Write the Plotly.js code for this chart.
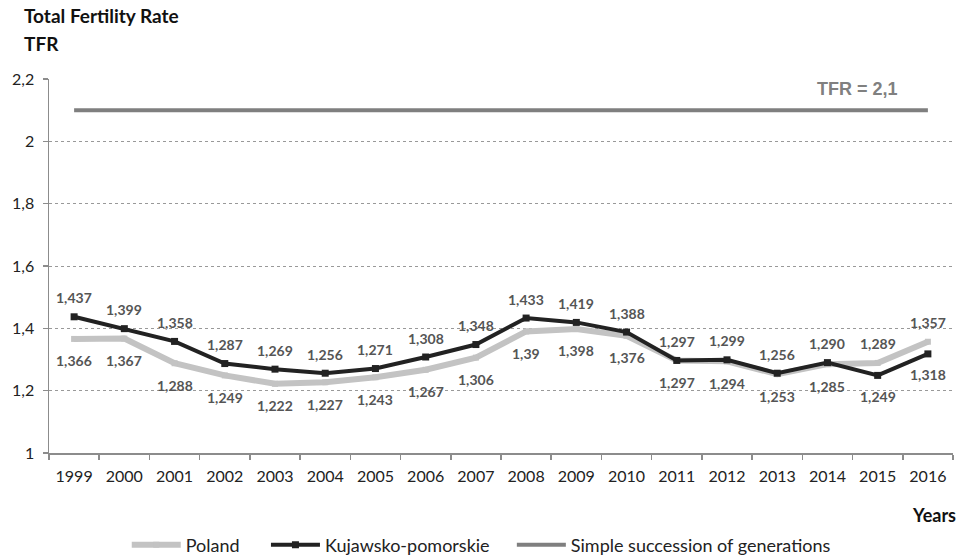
<!DOCTYPE html>
<html><head><meta charset="utf-8">
<script src="https://cdn.plot.ly/plotly-3.0.1.min.js"></script>
<style>html,body{margin:0;padding:0;background:#fff}#chart{width:965px;height:557px}</style>
</head><body><div id="chart"></div>
<script>
const years = [1999,2000,2001,2002,2003,2004,2005,2006,2007,2008,2009,2010,2011,2012,2013,2014,2015,2016];
const yearLabels = ["1999","2000","2001","2002","2003","2004","2005","2006","2007","2008","2009","2010","2011","2012","2013","2014","2015","2016"];
const poland = [1.366,1.367,1.288,1.249,1.222,1.227,1.243,1.267,1.306,1.39,1.398,1.376,1.297,1.294,1.253,1.285,1.289,1.357];
const polandLabels = ["1,366","1,367","1,288","1,249","1,222","1,227","1,243","1,267","1,306","1,39","1,398","1,376","1,297","1,294","1,253","1,285","1,289","1,357"];
const kujawsko = [1.437,1.399,1.358,1.287,1.269,1.256,1.271,1.308,1.348,1.433,1.419,1.388,1.297,1.299,1.256,1.290,1.249,1.318];
const kujawskoLabels = ["1,437","1,399","1,358","1,287","1,269","1,256","1,271","1,308","1,348","1,433","1,419","1,388","1,297","1,299","1,256","1,290","1,249","1,318"];
const tfr = 2.1;
const tfrLabel = "TFR = 2,1";
const yTicks = [1, 1.2, 1.4, 1.6, 1.8, 2, 2.2];
const yTickLabels = ["1", "1,2", "1,4", "1,6", "1,8", "2", "2,2"];

const FONT = "Lato, 'Open Sans', sans-serif";
const traces = [
  {x: years, y: poland, name: "Poland", type: "scatter", mode: "lines+markers", legend: "legend",
   line: {color: "#c3c3c3", width: 6}, marker: {color: "#c3c3c3", size: 6, symbol: "square"}},
  {x: years, y: kujawsko, name: "Kujawsko-pomorskie", type: "scatter", mode: "lines+markers", legend: "legend2",
   line: {color: "#222222", width: 4}, marker: {color: "#222222", size: 7, symbol: "square"}},
  {x: years, y: years.map(() => tfr), name: "Simple succession of generations", type: "scatter", mode: "lines", legend: "legend3",
   line: {color: "#7f7f7f", width: 4}}
];

const lblFont = {family: FONT, size: 14, color: "#555", weight: "bold"};
const annotations = [];
years.forEach((yr, i) => {
  const kAbove = kujawsko[i] >= poland[i];
  annotations.push({x: yr, y: kujawsko[i], text: kujawskoLabels[i], showarrow: false,
    yshift: kAbove ? 19 : -21, font: lblFont});
  annotations.push({x: yr, y: poland[i], text: polandLabels[i], showarrow: false,
    yshift: kAbove ? -22 : 19, font: lblFont});
});
annotations.push({xref: "paper", x: 0.894, xanchor: "center", y: tfr, text: tfrLabel, showarrow: false, yshift: 21,
  font: {family: "'Liberation Sans', Arial, sans-serif", size: 18, color: "#808080", weight: "bold"}});
annotations.push({xref: "paper", yref: "paper", x: 1.005, y: -0.166, xanchor: "right", yanchor: "middle",
  text: "Years", showarrow: false, font: {family: FONT, size: 18, color: "#111", weight: "bold"}});
annotations.push({xref: "paper", yref: "paper", x: -0.03, y: 1.171, xanchor: "left", yanchor: "middle",
  text: "Total Fertility Rate", showarrow: false, align: "left", font: {family: FONT, size: 19, color: "#111", weight: "bold"}});
annotations.push({xref: "paper", yref: "paper", x: -0.03, y: 1.096, xanchor: "left", yanchor: "middle",
  text: "TFR", showarrow: false, align: "left", font: {family: FONT, size: 19, color: "#111", weight: "bold"}});

const legFont = {family: FONT, size: 18, color: "#222"};
const mkLeg = (x) => ({orientation: "h", x: x, xanchor: "left", yref: "container", y: 0.0215, yanchor: "middle", font: legFont,
  bgcolor: "rgba(0,0,0,0)", itemwidth: 49});

const layout = {
  width: 965, height: 557,
  margin: {l: 49, r: 12, t: 79, b: 104},
  paper_bgcolor: "#fff", plot_bgcolor: "#fff",
  font: {family: FONT, size: 16, color: "#222"},
  showlegend: true,
  legend: mkLeg(0.086), legend2: mkLeg(0.240), legend3: mkLeg(0.512),
  xaxis: {range: [1998.5, 2016.5], tickvals: years, ticktext: yearLabels, ticks: "", showgrid: false,
    showline: true, linecolor: "#8c8c8c", linewidth: 1.5, zeroline: false, ticklabelstandoff: 8,
    tickfont: {family: FONT, size: 16, color: "#222"},
    minor: {tick0: 1998.5, dtick: 1, ticks: "outside", ticklen: 5, tickcolor: "#8c8c8c", tickwidth: 1.5, showgrid: false}},
  yaxis: {range: [1, 2.2], tickvals: yTicks, ticktext: yTickLabels, showgrid: true, gridcolor: "#999", griddash: "dot", gridwidth: 1,
    showline: true, linecolor: "#8c8c8c", linewidth: 1.5, ticks: "outside", ticklen: 5, tickcolor: "#8c8c8c",
    tickwidth: 1.5, tickfont: {family: FONT, size: 16, color: "#222"}, zeroline: false, ticklabelstandoff: 5},
  annotations: annotations
};
Plotly.newPlot("chart", traces, layout, {displayModeBar: false, staticPlot: true});
</script></body></html>
